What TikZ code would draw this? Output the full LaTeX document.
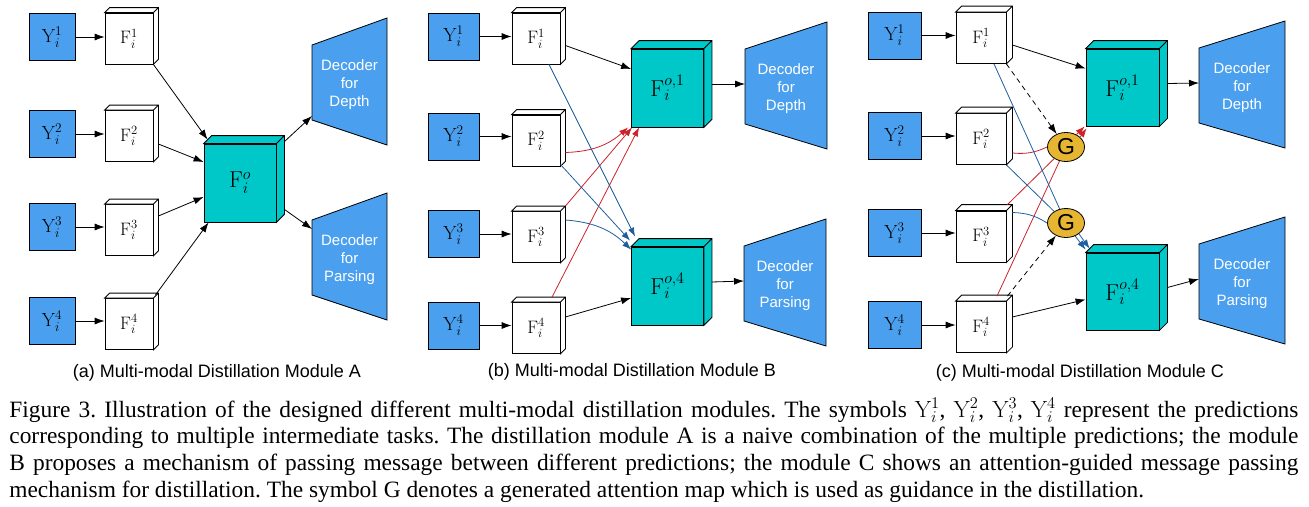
\RequirePackage{fix-cm}
\documentclass[tikz,border=0pt]{standalone}
\usepackage{fontspec}
\newfontfamily\capfont{Liberation Serif}
\newfontfamily\labfont{Liberation Sans}
\usetikzlibrary{arrows.meta,shapes.geometric,calc}
\frenchspacing

\definecolor{predblue}{RGB}{74,160,239}
\definecolor{fusecyan}{RGB}{0,200,200}
\definecolor{attgold}{RGB}{230,182,50}
\definecolor{msgred}{RGB}{204,34,41}
\definecolor{msgblue}{RGB}{31,94,158}

\tikzset{
  ynode/.style={draw, fill=predblue, minimum width=48pt, minimum height=47pt, inner sep=0pt, font=\fontsize{19}{19}\selectfont},
  featnode/.style={draw, fill=white, minimum width=48pt, minimum height=51pt, inner sep=0pt, font=\fontsize{18}{18}\selectfont},
  fusenode/.style={draw, fill=fusecyan, minimum width=72pt, minimum height=78pt, inner sep=0pt, font=\fontsize{23}{23}\selectfont},
  gnode/.style={draw, ellipse, fill=attgold, minimum width=37pt, minimum height=29pt, inner sep=0pt, font=\labfont\fontsize{23}{23}\selectfont},
  dectext/.style={align=center, text=white, font=\labfont\fontsize{15}{18}\selectfont},
  subcap/.style={font=\labfont\fontsize{18}{18}\selectfont},
  capline/.style={anchor=base west, inner sep=0pt, font=\capfont\fontsize{23.4}{27}\selectfont},
  arr/.style={-{Latex[length=10pt,width=7pt]}},
  guide/.style={arr, dash pattern=on 5pt off 4pt},
  redarr/.style={msgred, -{Latex[length=9pt,width=6.5pt]}},
  bluearr/.style={msgblue, -{Latex[length=9pt,width=6.5pt]}}
}

% top and right faces of a box node
\newcommand{\cubeside}[3]{%
  \draw[fill=#3] (#1.north west) -- ++(#2,#2) -- ([shift={(#2,#2)}]#1.north east)
    -- ([shift={(#2,#2)}]#1.south east) -- (#1.south east) -- (#1.north east) -- cycle
    (#1.north east) -- ++(#2,#2);
}

% decoder trapezium: name, x, y (top left corner), width, text
\newcommand{\decoder}[5]{%
  \draw[fill=predblue] (#2,#3) coordinate (#1-tl) -- (#2+#4,#3-27) -- (#2+#4,#3+100)
    -- (#2,#3+75) coordinate (#1-bl) -- cycle;
  \coordinate (#1-w) at (#2,#3+35);
  \node[dectext] (#1) at (#2+#4/2,#3+40) {#5};
}

\begin{document}
\begin{tikzpicture}[x=1pt, y=-1pt, line width=0.8pt]

    \useasboundingbox (0,0) rectangle (1309,506);

    % ---------------- (a) Module A ----------------
    \node[ynode, minimum width=46pt] (Ya1) at (52,37) {$\mathrm{Y}_i^1$};
    \node[ynode, minimum width=46pt] (Ya2) at (52,134) {$\mathrm{Y}_i^2$};
    \node[ynode, minimum width=46pt] (Ya3) at (52,227) {$\mathrm{Y}_i^3$};
    \node[ynode, minimum width=46pt] (Ya4) at (52,321) {$\mathrm{Y}_i^4$};

    \node[featnode] (Fa1) at (129,38.5) {$\mathrm{F}_i^1$};
    \node[featnode] (Fa2) at (129,136) {$\mathrm{F}_i^2$};
    \node[featnode] (Fa3) at (129,230) {$\mathrm{F}_i^3$};
    \node[featnode] (Fa4) at (129,324) {$\mathrm{F}_i^4$};
    \cubeside{Fa1}{5pt}{white}
    \cubeside{Fa2}{5pt}{white}
    \cubeside{Fa3}{5pt}{white}
    \cubeside{Fa4}{5pt}{white}

    \node[fusenode] (Foa) at (240,183) {$\mathrm{F}_i^o$};
    \cubeside{Foa}{8pt}{fusecyan}

    \decoder{decAd}{312}{45}{75}{Decoder\\for\\Depth}
    \decoder{decAp}{312}{220}{75}{Decoder\\for\\Parsing}

    \draw[arr] (Ya1.east) -- (Ya1.east -| Fa1.west);
    \draw[arr] (Ya2.east) -- (Ya2.east -| Fa2.west);
    \draw[arr] (Ya3.east) -- (Ya3.east -| Fa3.west);
    \draw[arr] (Ya4.east) -- (Ya4.east -| Fa4.west);

    \draw[arr] (Fa1.south east) -- ([shift={(4pt,4pt)}]Foa.north west);
    \draw[arr] ([shift={(5pt,-8pt)}]Fa2.east) -- ([yshift=21pt]Foa.west);
    \draw[arr] ([shift={(5pt,14pt)}]Fa3.east) -- ([yshift=-14pt]Foa.west);
    \draw[arr] ([shift={(2pt,3pt)}]Fa4.north east) -- ([xshift=5pt]Foa.south west);

    \draw[arr] ([shift={(8pt,2pt)}]Foa.north east) -- ([yshift=4pt]decAd-bl);
    \draw[arr] ([shift={(8pt,13pt)}]Foa.south east) -- ([yshift=-9pt]decAp-tl);

    \node[subcap] (capa) at (217,373) {(a) Multi-modal Distillation Module A};

    % ---------------- (b) Module B ----------------
    \node[ynode, minimum width=51pt] (Yb1) at (453.5,36.5) {$\mathrm{Y}_i^1$};
    \node[ynode, minimum width=51pt] (Yb2) at (453.5,136.5) {$\mathrm{Y}_i^2$};
    \node[ynode, minimum width=51pt] (Yb3) at (453.5,234) {$\mathrm{Y}_i^3$};
    \node[ynode, minimum width=51pt] (Yb4) at (453.5,325.5) {$\mathrm{Y}_i^4$};

    \node[featnode] (Fb1) at (536,38.5) {$\mathrm{F}_i^1$};
    \node[featnode] (Fb2) at (536,140.5) {$\mathrm{F}_i^2$};
    \node[featnode] (Fb3) at (536,237) {$\mathrm{F}_i^3$};
    \node[featnode] (Fb4) at (536,328) {$\mathrm{F}_i^4$};
    \cubeside{Fb1}{5pt}{white}
    \cubeside{Fb2}{5pt}{white}
    \cubeside{Fb3}{5pt}{white}
    \cubeside{Fb4}{5pt}{white}

    \node[fusenode] (Fob1) at (667.5,88) {$\mathrm{F}_i^{o,1}$};
    \node[fusenode] (Fob4) at (667.5,286) {$\mathrm{F}_i^{o,4}$};
    \cubeside{Fob1}{8pt}{fusecyan}
    \cubeside{Fob4}{8pt}{fusecyan}

    \decoder{decBd}{745}{49}{82}{Decoder\\for\\Depth}
    \decoder{decBp}{744}{246}{82}{Decoder\\for\\Parsing}

    \draw[arr] (Yb1.east) -- (Yb1.east -| Fb1.west);
    \draw[arr] (Yb2.east) -- (Yb2.east -| Fb2.west);
    \draw[arr] (Yb3.east) -- (Yb3.east -| Fb3.west);
    \draw[arr] (Yb4.east) -- (Yb4.east -| Fb4.west);

    \draw[arr] ([shift={(5pt,-7pt)}]Fb1.east) -- ([yshift=19pt]Fob1.west);
    \draw[arr] ([shift={(5pt,11pt)}]Fb4.east) -- ([yshift=-12pt]Fob4.west);

    % messages passed to the depth branch
    \draw[redarr] ([shift={(5pt,-12pt)}]Fb2.east) to[bend right=20] ([xshift=-3pt]Fob1.south west);
    \draw[redarr] ([shift={(5pt,5pt)}]Fb3.north east) -- ([xshift=1pt]Fob1.south west);
    \draw[redarr] ([shift={(16pt,5pt)}]Fb4.north) -- ([xshift=8pt]Fob1.south west);

    % messages passed to the parsing branch
    \draw[bluearr] ([xshift=13pt]Fb1.south) -- ([shift={(4pt,10pt)}]Fob4.north west);
    \draw[bluearr] ([yshift=2pt]Fb2.south east) -- ([shift={(-1pt,6pt)}]Fob4.north west);
    \draw[bluearr] ([shift={(5pt,17pt)}]Fb3.east) to[bend left=20] ([yshift=-3pt]Fob4.north west);

    \draw[arr] ([shift={(8pt,4pt)}]Fob1.east) -- (decBd-w);
    \draw[arr] ([shift={(8pt,4pt)}]Fob4.east) -- (decBp-w);

    \node[subcap] (capb) at (632,372) {(b) Multi-modal Distillation Module B};

    % ---------------- (c) Module C ----------------
    \node[ynode, minimum width=53pt] (Yc1) at (894.5,35.5) {$\mathrm{Y}_i^1$};
    \node[ynode, minimum width=53pt] (Yc2) at (894.5,136) {$\mathrm{Y}_i^2$};
    \node[ynode, minimum width=53pt] (Yc3) at (894.5,233) {$\mathrm{Y}_i^3$};
    \node[ynode, minimum width=53pt] (Yc4) at (894.5,325) {$\mathrm{Y}_i^4$};

    \node[featnode, minimum width=50pt] (Fc1) at (981,38) {$\mathrm{F}_i^1$};
    \node[featnode, minimum width=50pt] (Fc2) at (981,139) {$\mathrm{F}_i^2$};
    \node[featnode, minimum width=50pt] (Fc3) at (981,236.5) {$\mathrm{F}_i^3$};
    \node[featnode, minimum width=50pt] (Fc4) at (981,327) {$\mathrm{F}_i^4$};
    \cubeside{Fc1}{6pt}{white}
    \cubeside{Fc2}{6pt}{white}
    \cubeside{Fc3}{6pt}{white}
    \cubeside{Fc4}{6pt}{white}

    \node[fusenode, minimum width=73pt, minimum height=77pt] (Foc1) at (1122.5,87.5) {$\mathrm{F}_i^{o,1}$};
    \node[fusenode, minimum width=73pt, minimum height=77pt] (Foc4) at (1122.5,291.5) {$\mathrm{F}_i^{o,4}$};
    \cubeside{Foc1}{8pt}{fusecyan}
    \cubeside{Foc4}{8pt}{fusecyan}

    \decoder{decCd}{1199}{48}{86}{Decoder\\for\\Depth}
    \decoder{decCp}{1199}{244}{86}{Decoder\\for\\Parsing}

    \draw[arr] (Yc1.east) -- (Yc1.east -| Fc1.west);
    \draw[arr] (Yc2.east) -- (Yc2.east -| Fc2.west);
    \draw[arr] (Yc3.east) -- (Yc3.east -| Fc3.west);
    \draw[arr] (Yc4.east) -- (Yc4.east -| Fc4.west);

    \draw[arr] ([shift={(6pt,-7pt)}]Fc1.east) -- ([yshift=19pt]Foc1.west);
    \draw[arr] ([shift={(6pt,10pt)}]Fc4.east) -- ([yshift=-8pt]Foc4.west);

    % attention maps
    \node[gnode] (Gc1) at (1066,147) {G};
    \node[gnode] (Gc4) at (1066,223) {G};

    \draw[guide] (Fc1.south east) -- (Gc1);
    \draw[guide] ([shift={(1pt,5pt)}]Fc4.north east) -- (Gc4);

    % guided messages to the depth branch
    \draw[msgred] ([shift={(6pt,-14pt)}]Fc2.east) to[bend right=15] (Gc1.west);
    \draw[msgred] ([shift={(1pt,6pt)}]Fc3.north east) -- (Gc1);
    \draw[msgred] ([shift={(16pt,5pt)}]Fc4.north) -- (Gc1);
    \draw[redarr] (Gc1.50) -- ([xshift=-1pt]Foc1.south west);
    \draw[redarr] (Gc1.35) -- ([shift={(1pt,-2pt)}]Foc1.south west);

    % guided messages to the parsing branch
    \draw[msgblue] ([xshift=13pt]Fc1.south) -- (Gc4);
    \draw[msgblue] (Fc2.south east) -- (Gc4);
    \draw[msgblue] ([shift={(6pt,24pt)}]Fc3.east) to[bend left=15] (Gc4.west);
    \draw[bluearr] (Gc4.-40) -- ([shift={(4pt,4pt)}]Foc4.north west);
    \draw[bluearr] (Gc4.-55) -- ([shift={(0pt,3pt)}]Foc4.north west);

    \draw[arr] ([shift={(8pt,4pt)}]Foc1.east) -- (decCd-w);
    \draw[arr] ([shift={(8pt,4pt)}]Foc4.east) -- (decCp-w);

    \node[subcap] (capc) at (1080,373) {(c) Multi-modal Distillation Module C};

    % ---------------- figure caption ----------------
    \node[capline] (cap1) at (9,417) {\makebox[1289pt][s]{Figure 3. Illustration of the designed different multi-modal distillation modules. The symbols $\mathrm{Y}_i^1$, $\mathrm{Y}_i^2$, $\mathrm{Y}_i^3$, $\mathrm{Y}_i^4$ represent the predictions}};
    \node[capline] (cap2) at (9,443.7) {\makebox[1289pt][s]{corresponding to multiple intermediate tasks. The distillation module A is a naive combination of the multiple predictions; the module}};
    \node[capline] (cap3) at (9,470.5) {\makebox[1289pt][s]{B proposes a mechanism of passing message between different predictions; the module C shows an attention-guided message passing}};
    \node[capline] (cap4) at (9,497) {mechanism for distillation. The symbol G denotes a generated attention map which is used as guidance in the distillation.};

\end{tikzpicture}
\end{document}
